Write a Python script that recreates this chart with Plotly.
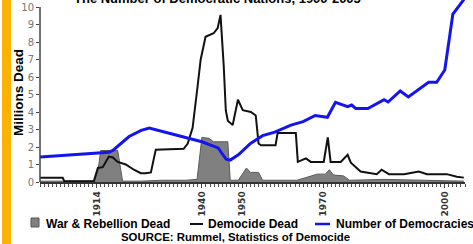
import plotly.graph_objects as go

# ---------------- data ----------------
war_years = [1900, 1913.5, 1914.3, 1915.0, 1919.2, 1920.4, 1925, 1930, 1936, 1938.8,
             1940.0, 1941.7, 1942.9, 1945.9, 1946.4, 1947.0, 1949.0, 1951.0, 1952.0,
             1954.0, 1955.0, 1963.5, 1966.5, 1968.5, 1970.5, 1971.5, 1972.5, 1975.0,
             1976.5, 1985, 1995, 2004.7]
war_dead = [0.05, 0.05, 0.6, 1.8, 1.8, 0.05, 0.05, 0.1, 0.1, 0.15,
            2.55, 2.5, 2.3, 2.3, 2.3, 0.1, 0.1, 0.8, 0.55,
            0.55, 0.1, 0.1, 0.3, 0.45, 0.45, 0.7, 0.4, 0.35,
            0.1, 0.15, 0.1, 0.05]

democide_years = [1900, 1905.6, 1906, 1913.3, 1914.3, 1915.5, 1917, 1918, 1919.2, 1921.2,
                  1923.2, 1924.9, 1926.1, 1927.4, 1928.6, 1935.5, 1936.5, 1937.7, 1939,
                  1939.7, 1940.9, 1942.9, 1943.9, 1944.6, 1945.4, 1945.9, 1946.4, 1947.6,
                  1948.9, 1950.1, 1952.1, 1953.3, 1954, 1954.6, 1958.2, 1958.7, 1963.2,
                  1963.7, 1965.7, 1966.9, 1970.1, 1971.1, 1971.8, 1974.3, 1976, 1976.8,
                  1979.2, 1980.7, 1983.2, 1984.4, 1986.2, 1989.9, 1993.6, 1995.6, 2000.5,
                  2003, 2004.7]
democide_dead = [0.25, 0.25, 0.05, 0.05, 0.8, 0.85, 1.45, 1.4, 1.15, 1.0,
                 0.7, 0.5, 0.5, 0.55, 1.85, 1.9, 2.2, 3.1, 5.6,
                 7.0, 8.3, 8.5, 8.8, 9.55, 6.6, 4.1, 3.5, 3.25,
                 4.7, 4.1, 4.0, 3.8, 2.2, 2.1, 2.1, 2.8, 2.8,
                 1.15, 1.35, 1.15, 1.15, 2.55, 1.15, 1.15, 1.55, 1.1,
                 0.6, 0.55, 0.45, 0.7, 0.45, 0.45, 0.6, 0.45, 0.45,
                 0.3, 0.25]

democ_years = [1900, 1910, 1917, 1918, 1922, 1925, 1927, 1935, 1940, 1944, 1946, 1947,
               1949, 1952, 1955, 1958, 1962, 1965, 1968, 1971, 1973, 1976, 1977, 1978,
               1981, 1985, 1986, 1989, 1991, 1996, 1998, 2000, 2001, 2002, 2004.8]
democracies = [1.43, 1.58, 1.7, 1.8, 2.6, 2.95, 3.08, 2.6, 2.3, 1.95, 1.3, 1.25,
               1.55, 2.2, 2.65, 2.85, 3.25, 3.45, 3.8, 3.7, 4.55, 4.3, 4.4, 4.2,
               4.2, 4.7, 4.57, 5.2, 4.86, 5.7, 5.7, 6.4, 7.9, 9.6, 10.45]

y_ticks = list(range(0, 11))
x_ticks = [1914, 1940, 1950, 1970, 2000]

title_text = "The Number of Democratic Nations, 1900-2005"
legend_labels = ["War & Rebellion Dead", "Democide Dead", "Number of Democracies"]
source_text = "SOURCE: Rummel, Statistics of Democide"

# ---------------- layout helpers ----------------
W, H = 473, 244
ML, MR, MT, MB = 40, 8, 0, 62
PW, PH = W - ML - MR, H - MT - MB


def px(xp):
    return (xp - ML) / PW


def py(yp):
    return (H - MB - yp) / PH


BOLDF = "Liberation Sans, Arial, sans-serif"

fig = go.Figure()
fig.add_trace(go.Scatter(x=war_years, y=war_dead, mode="lines", fill="tozeroy",
                         fillcolor="rgb(128,128,128)",
                         line=dict(color="#5a5a5a", width=1), showlegend=False))
fig.add_trace(go.Scatter(x=democide_years, y=democide_dead, mode="lines",
                         line=dict(color="#111111", width=2), showlegend=False))
fig.add_trace(go.Scatter(x=democ_years, y=democracies, mode="lines",
                         line=dict(color="#1414f0", width=3), showlegend=False))

shapes = [
    # orange side bar
    dict(type="rect", xref="paper", yref="paper", x0=px(2), x1=px(11), y0=py(H), y1=py(0),
         fillcolor="#FDB100", line=dict(width=0), layer="above"),
    # y axis line
    dict(type="line", xref="paper", yref="y", x0=0, x1=0, y0=0, y1=10,
         line=dict(color="#444", width=1.5)),
    # legend symbols
    dict(type="rect", xref="paper", yref="paper", x0=px(31), x1=px(39), y0=py(227), y1=py(218),
         fillcolor="rgb(128,128,128)", line=dict(color="#555", width=1)),
    dict(type="line", xref="paper", yref="paper", x0=px(190), x1=px(203), y0=py(224), y1=py(224),
         line=dict(color="#111", width=2)),
    dict(type="line", xref="paper", yref="paper", x0=px(315), x1=px(330), y0=py(224), y1=py(224),
         line=dict(color="#1414f0", width=2.5)),
]

annotations = [
    dict(text=title_text, xref="paper", yref="paper", x=px(217), y=py(8),
         xanchor="center", yanchor="bottom", showarrow=False,
         font=dict(family=BOLDF, size=13, color="#000", weight="bold")),
    dict(text="Millions Dead", xref="paper", yref="paper", x=px(18), y=py(93),
         xanchor="center", yanchor="middle", textangle=-90, showarrow=False,
         font=dict(family=BOLDF, size=13.5, color="#000", weight="bold")),
    dict(text=legend_labels[0], xref="paper", yref="paper", x=px(44), y=py(223.5),
         xanchor="left", yanchor="middle", showarrow=False,
         font=dict(family=BOLDF, size=12, color="#000", weight="bold")),
    dict(text=legend_labels[1], xref="paper", yref="paper", x=px(206), y=py(223.5),
         xanchor="left", yanchor="middle", showarrow=False,
         font=dict(family=BOLDF, size=12, color="#000", weight="bold")),
    dict(text=legend_labels[2], xref="paper", yref="paper", x=px(334), y=py(223.5),
         xanchor="left", yanchor="middle", showarrow=False,
         font=dict(family=BOLDF, size=12, color="#000", weight="bold")),
    dict(text=source_text, xref="paper", yref="paper", x=px(235), y=py(236.5),
         xanchor="center", yanchor="middle", showarrow=False,
         font=dict(family=BOLDF, size=11.4, color="#000", weight="bold")),
]

fig.update_layout(
    width=W, height=H,
    margin=dict(l=ML, r=MR, t=MT, b=MB, pad=0, autoexpand=False),
    paper_bgcolor="white", plot_bgcolor="white",
    showlegend=False,
    shapes=shapes, annotations=annotations,
    xaxis=dict(range=[1900, 2005], showgrid=False, zeroline=False, automargin=False,
               showline=True, linecolor="#333", linewidth=1.5,
               tickvals=x_ticks, ticktext=[str(v) for v in x_ticks],
               ticks="outside", ticklen=4, tickcolor="#444", tickangle=-90,
               tickfont=dict(family="DejaVu Sans", size=9, color="#333", weight="bold"),
               minor=dict(dtick=1, tick0=1900, ticks="outside", ticklen=3, tickcolor="#555")),
    yaxis=dict(range=[0, PH / 17.5], showgrid=False, zeroline=False, showline=False,
               automargin=False,
               tickvals=y_ticks, ticks="outside", ticklen=3, tickcolor="#444",
               tickfont=dict(family="DejaVu Sans", size=10, color="#777")),
)

fig.write_html("out.html", config={"displayModeBar": False},
               post_script="document.body.style.margin='0';document.body.style.overflow='hidden';")
